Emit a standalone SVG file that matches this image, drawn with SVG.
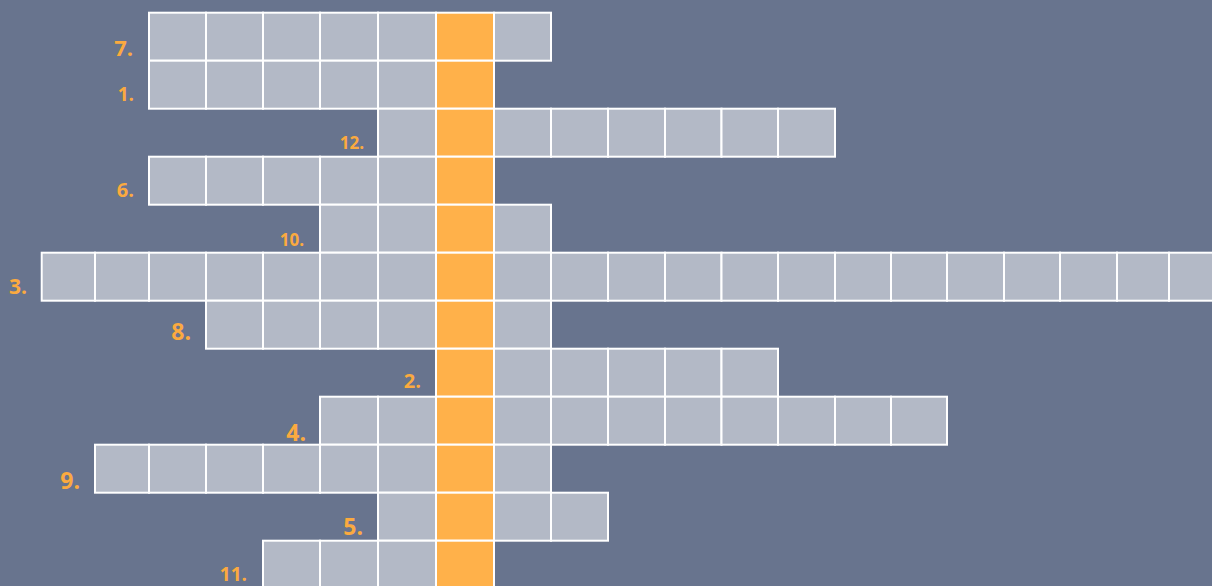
<svg xmlns="http://www.w3.org/2000/svg" width="1212" height="586" viewBox="0 0 1212 586">
<style>
.c{fill:#B3B9C6;stroke:#FFFFFF;stroke-width:2}
.k{fill:#FFB14A;stroke:#FFFFFF;stroke-width:2}
.n{fill:#FBAA3F;font-family:"Open Sans","Noto Sans",sans-serif;font-weight:bold;text-anchor:end}
</style>
<rect x="0" y="0" width="1212" height="586" fill="#68748E"/>
<g id="row7">
<rect class="c" x="149" y="12.7" width="57" height="48"/><rect class="c" x="206" y="12.7" width="57" height="48"/><rect class="c" x="263" y="12.7" width="57" height="48"/><rect class="c" x="320" y="12.7" width="58" height="48"/><rect class="c" x="378" y="12.7" width="58" height="48"/><rect class="k" x="436" y="12.7" width="58" height="48"/><rect class="c" x="494" y="12.7" width="57" height="48"/>
<text class="n" x="133" y="56" font-size="22">7.</text>
</g>
<g id="row1">
<rect class="c" x="149" y="60.7" width="57" height="48"/><rect class="c" x="206" y="60.7" width="57" height="48"/><rect class="c" x="263" y="60.7" width="57" height="48"/><rect class="c" x="320" y="60.7" width="58" height="48"/><rect class="c" x="378" y="60.7" width="58" height="48"/><rect class="k" x="436" y="60.7" width="58" height="48"/>
<text class="n" x="134" y="101" font-size="19">1.</text>
</g>
<g id="row12">
<rect class="c" x="378" y="108.7" width="58" height="48"/><rect class="k" x="436" y="108.7" width="58" height="48"/><rect class="c" x="494" y="108.7" width="57" height="48"/><rect class="c" x="551" y="108.7" width="57" height="48"/><rect class="c" x="608" y="108.7" width="57" height="48"/><rect class="c" x="665" y="108.7" width="56.5" height="48"/><rect class="c" x="721.5" y="108.7" width="56.5" height="48"/><rect class="c" x="778" y="108.7" width="57" height="48"/>
<text class="n" x="364" y="149" font-size="17">12.</text>
</g>
<g id="row6">
<rect class="c" x="149" y="156.7" width="57" height="48"/><rect class="c" x="206" y="156.7" width="57" height="48"/><rect class="c" x="263" y="156.7" width="57" height="48"/><rect class="c" x="320" y="156.7" width="58" height="48"/><rect class="c" x="378" y="156.7" width="58" height="48"/><rect class="k" x="436" y="156.7" width="58" height="48"/>
<text class="n" x="134" y="197" font-size="20">6.</text>
</g>
<g id="row10">
<rect class="c" x="320" y="204.7" width="58" height="48"/><rect class="c" x="378" y="204.7" width="58" height="48"/><rect class="k" x="436" y="204.7" width="58" height="48"/><rect class="c" x="494" y="204.7" width="57" height="48"/>
<text class="n" x="304" y="246" font-size="17">10.</text>
</g>
<g id="row3">
<rect class="c" x="41.7" y="252.7" width="53.3" height="48"/><rect class="c" x="95" y="252.7" width="54" height="48"/><rect class="c" x="149" y="252.7" width="57" height="48"/><rect class="c" x="206" y="252.7" width="57" height="48"/><rect class="c" x="263" y="252.7" width="57" height="48"/><rect class="c" x="320" y="252.7" width="58" height="48"/><rect class="c" x="378" y="252.7" width="58" height="48"/><rect class="k" x="436" y="252.7" width="58" height="48"/><rect class="c" x="494" y="252.7" width="57" height="48"/><rect class="c" x="551" y="252.7" width="57" height="48"/><rect class="c" x="608" y="252.7" width="57" height="48"/><rect class="c" x="665" y="252.7" width="56.5" height="48"/><rect class="c" x="721.5" y="252.7" width="56.5" height="48"/><rect class="c" x="778" y="252.7" width="57" height="48"/><rect class="c" x="835" y="252.7" width="56" height="48"/><rect class="c" x="891" y="252.7" width="56" height="48"/><rect class="c" x="947" y="252.7" width="57" height="48"/><rect class="c" x="1004" y="252.7" width="56" height="48"/><rect class="c" x="1060" y="252.7" width="57" height="48"/><rect class="c" x="1117" y="252.7" width="52" height="48"/><rect class="c" x="1169" y="252.7" width="57" height="48"/>
<text class="n" x="27" y="294" font-size="21">3.</text>
</g>
<g id="row8">
<rect class="c" x="206" y="300.7" width="57" height="48"/><rect class="c" x="263" y="300.7" width="57" height="48"/><rect class="c" x="320" y="300.7" width="58" height="48"/><rect class="c" x="378" y="300.7" width="58" height="48"/><rect class="k" x="436" y="300.7" width="58" height="48"/><rect class="c" x="494" y="300.7" width="57" height="48"/>
<text class="n" x="191" y="340" font-size="23">8.</text>
</g>
<g id="row2">
<rect class="k" x="436" y="348.7" width="58" height="48"/><rect class="c" x="494" y="348.7" width="57" height="48"/><rect class="c" x="551" y="348.7" width="57" height="48"/><rect class="c" x="608" y="348.7" width="57" height="48"/><rect class="c" x="665" y="348.7" width="56.5" height="48"/><rect class="c" x="721.5" y="348.7" width="56.5" height="48"/>
<text class="n" x="421" y="388" font-size="20">2.</text>
</g>
<g id="row4">
<rect class="c" x="320" y="396.7" width="58" height="48"/><rect class="c" x="378" y="396.7" width="58" height="48"/><rect class="k" x="436" y="396.7" width="58" height="48"/><rect class="c" x="494" y="396.7" width="57" height="48"/><rect class="c" x="551" y="396.7" width="57" height="48"/><rect class="c" x="608" y="396.7" width="57" height="48"/><rect class="c" x="665" y="396.7" width="56.5" height="48"/><rect class="c" x="721.5" y="396.7" width="56.5" height="48"/><rect class="c" x="778" y="396.7" width="57" height="48"/><rect class="c" x="835" y="396.7" width="56" height="48"/><rect class="c" x="891" y="396.7" width="56" height="48"/>
<text class="n" x="306" y="441" font-size="23">4.</text>
</g>
<g id="row9">
<rect class="c" x="95" y="444.7" width="54" height="48"/><rect class="c" x="149" y="444.7" width="57" height="48"/><rect class="c" x="206" y="444.7" width="57" height="48"/><rect class="c" x="263" y="444.7" width="57" height="48"/><rect class="c" x="320" y="444.7" width="58" height="48"/><rect class="c" x="378" y="444.7" width="58" height="48"/><rect class="k" x="436" y="444.7" width="58" height="48"/><rect class="c" x="494" y="444.7" width="57" height="48"/>
<text class="n" x="80" y="489" font-size="23">9.</text>
</g>
<g id="row5">
<rect class="c" x="378" y="492.7" width="58" height="48"/><rect class="k" x="436" y="492.7" width="58" height="48"/><rect class="c" x="494" y="492.7" width="57" height="48"/><rect class="c" x="551" y="492.7" width="57" height="48"/>
<text class="n" x="363" y="535" font-size="23">5.</text>
</g>
<g id="row11">
<rect class="c" x="263" y="540.7" width="57" height="48"/><rect class="c" x="320" y="540.7" width="58" height="48"/><rect class="c" x="378" y="540.7" width="58" height="48"/><rect class="k" x="436" y="540.7" width="58" height="48"/>
<text class="n" x="247" y="581" font-size="19">11.</text>
</g>
<g id="connectors"/>
</svg>
